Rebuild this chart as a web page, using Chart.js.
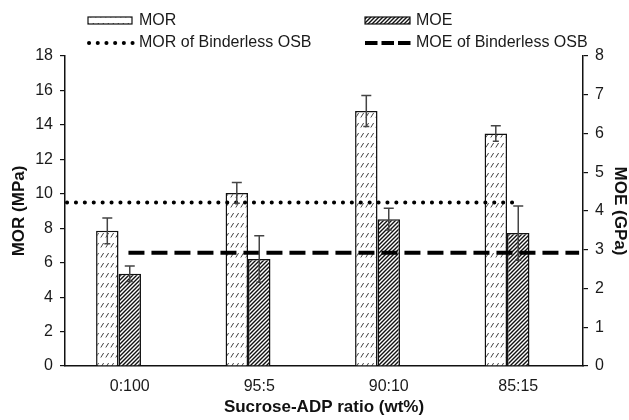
<!DOCTYPE html>
<html>
<head>
<meta charset="utf-8">
<script src="https://cdn.jsdelivr.net/npm/chart.js@4.4.1/dist/chart.umd.min.js"></script>
<style>
html, body { margin: 0; padding: 0; background: #fff; }
#wrap { width: 629px; height: 420px; position: relative; }
</style>
</head>
<body>
<div id="wrap"><canvas id="c"></canvas></div>
<script>
var categories = ['0:100', '95:5', '90:10', '85:15'];
var morValues = [7.85, 10.05, 14.8, 13.5];
var morErrors = [0.75, 0.6, 0.9, 0.45];
var moeValues = [2.38, 2.76, 3.79, 3.43];
var moeErrors = [0.2, 0.6, 0.28, 0.7];
var morBinderless = 9.5;
var moeBinderless = 2.92;
// where the reference lines start/stop, in category widths from the left axis
var morLineSpan = [0, 3.46];
var moeLineSpan = [0.49, 3.97];
var morTicks = [0, 2, 4, 6, 8, 10, 12, 14, 16, 18];
var moeTicks = [0, 1, 2, 3, 4, 5, 6, 7, 8];

var FONT = "'Liberation Sans', Arial, sans-serif";

function makeMorPattern() {
    var c = document.createElement('canvas');
    c.width = 5; c.height = 10;
    var g = c.getContext('2d');
    g.fillStyle = '#fff';
    g.fillRect(0, 0, 5, 10);
    g.strokeStyle = '#444';
    g.lineWidth = 1;
    g.beginPath();
    g.moveTo(0.8, 7.5);
    g.lineTo(3.6, 3);
    g.stroke();
    return g.createPattern(c, 'repeat');
}

function makeMoePattern() {
    var c = document.createElement('canvas');
    c.width = 4; c.height = 4;
    var g = c.getContext('2d');
    g.fillStyle = '#fff';
    g.fillRect(0, 0, 4, 4);
    g.strokeStyle = '#111';
    g.lineWidth = 1.4;
    g.beginPath();
    g.moveTo(0, 4); g.lineTo(4, 0);
    g.moveTo(-1, 1); g.lineTo(1, -1);
    g.moveTo(3, 5); g.lineTo(5, 3);
    g.stroke();
    return g.createPattern(c, 'repeat');
}

var morPattern = makeMorPattern();
var moePattern = makeMoePattern();

function spanPixels(chart, span) {
    var xs = chart.scales.x;
    var step = xs.getPixelForValue(1) - xs.getPixelForValue(0);
    var left = xs.getPixelForValue(0) - step / 2;
    return [left + span[0] * step, left + span[1] * step];
}

var refLinePlugin = {
    id: 'refLines',
    afterDatasetsDraw: function(chart) {
        var ctx = chart.ctx;
        ctx.save();
        ctx.strokeStyle = '#000';
        ctx.lineWidth = 4;

        var p = spanPixels(chart, morLineSpan);
        var y = chart.scales.y.getPixelForValue(morBinderless);
        ctx.lineCap = 'round';
        ctx.setLineDash([0.1, 8.8]);
        ctx.beginPath();
        ctx.moveTo(p[0] + 2, y); ctx.lineTo(p[1], y);
        ctx.stroke();

        p = spanPixels(chart, moeLineSpan);
        y = chart.scales.y2.getPixelForValue(moeBinderless);
        ctx.lineCap = 'butt';
        ctx.setLineDash([16, 7]);
        ctx.beginPath();
        ctx.moveTo(p[0], y); ctx.lineTo(p[1], y);
        ctx.stroke();
        ctx.restore();
    }
};

var errorBarPlugin = {
    id: 'errorBars',
    afterDatasetsDraw: function(chart) {
        var ctx = chart.ctx;
        var sets = [[0, morErrors, 'y'], [1, moeErrors, 'y2']];
        ctx.save();
        ctx.strokeStyle = '#444';
        ctx.lineWidth = 1.5;
        for (var s = 0; s < sets.length; s++) {
            var meta = chart.getDatasetMeta(sets[s][0]);
            var scale = chart.scales[sets[s][2]];
            var vals = chart.data.datasets[sets[s][0]].data;
            for (var i = 0; i < meta.data.length; i++) {
                var x = meta.data[i].x;
                var top = scale.getPixelForValue(vals[i] + sets[s][1][i]);
                var bot = scale.getPixelForValue(vals[i] - sets[s][1][i]);
                ctx.beginPath();
                ctx.moveTo(x, bot);
                ctx.lineTo(x, top);
                ctx.moveTo(x - 5, top);
                ctx.lineTo(x + 5, top);
                ctx.moveTo(x - 3, bot);
                ctx.lineTo(x + 3, bot);
                ctx.stroke();
            }
        }
        ctx.restore();
    }
};

var legendPlugin = {
    id: 'cornerLegend',
    afterDraw: function(chart) {
        var ctx = chart.ctx;
        ctx.save();
        ctx.font = '16px ' + FONT;
        ctx.textBaseline = 'middle';
        // bar swatches
        ctx.fillStyle = morPattern;
        ctx.fillRect(88, 17, 44, 7);
        ctx.strokeStyle = '#111';
        ctx.lineWidth = 1.2;
        ctx.strokeRect(88, 17, 44, 7);
        ctx.fillStyle = moePattern;
        ctx.fillRect(365, 17, 45, 7);
        ctx.strokeRect(365, 17, 45, 7);
        // line swatches
        ctx.lineWidth = 4;
        ctx.strokeStyle = '#000';
        ctx.lineCap = 'round';
        ctx.setLineDash([0.1, 8.6]);
        ctx.beginPath();
        ctx.moveTo(89, 43); ctx.lineTo(133, 43);
        ctx.stroke();
        ctx.lineCap = 'butt';
        ctx.setLineDash([12.5, 4]);
        ctx.beginPath();
        ctx.moveTo(365, 43); ctx.lineTo(411, 43);
        ctx.stroke();
        ctx.setLineDash([]);
        ctx.fillStyle = '#1a1a1a';
        ctx.fillText('MOR', 139, 21);
        ctx.fillText('MOE', 416, 21);
        ctx.fillText('MOR of Binderless OSB', 139, 43);
        ctx.fillText('MOE of Binderless OSB', 416, 43);
        ctx.restore();
    }
};

new Chart(document.getElementById('c'), {
    type: 'bar',
    data: {
        labels: categories,
        datasets: [
            { label: 'MOR', data: morValues, yAxisID: 'y', backgroundColor: morPattern, borderColor: '#111', borderWidth: 1.5 },
            { label: 'MOE', data: moeValues, yAxisID: 'y2', backgroundColor: moePattern, borderColor: '#111', borderWidth: 1.5 },
            // empty third slot, keeps the pair left of the category centre
            { label: '', data: [null, null, null, null], yAxisID: 'y' }
        ]
    },
    options: {
        responsive: true,
        maintainAspectRatio: false,
        animation: false,
        categoryPercentage: 0.52,
        barPercentage: 1.0,
        layout: { padding: { top: 56, left: 0, right: 0, bottom: 0 } },
        plugins: {
            legend: { display: false },
            tooltip: { enabled: false }
        },
        scales: {
            x: {
                offset: true,
                grid: { display: false, drawTicks: false },
                border: { color: '#111', width: 1.5 },
                ticks: { color: '#1a1a1a', font: { family: FONT, size: 16 }, padding: 11 },
                title: { display: true, text: 'Sucrose-ADP ratio (wt%)', color: '#111', font: { family: FONT, size: 17, weight: 'bold', lineHeight: 1 }, padding: { top: 0, bottom: 4 } },
                afterFit: function(s) { s.height = 54; }
            },
            y: {
                position: 'left', min: 0, max: 18,
                afterBuildTicks: function(s) { s.ticks = morTicks.map(function(v) { return { value: v }; }); },
                grid: { drawOnChartArea: false, tickLength: 5, color: '#111', lineWidth: 1.2 },
                border: { color: '#111', width: 1.5 },
                ticks: { color: '#1a1a1a', font: { family: FONT, size: 16 }, padding: 7 },
                title: { display: true, text: 'MOR (MPa)', color: '#111', font: { family: FONT, size: 17, weight: 'bold', lineHeight: 1 }, padding: { top: 11, bottom: 0 } },
                afterFit: function(s) { s.width = 65; }
            },
            y2: {
                position: 'right', min: 0, max: 8,
                afterBuildTicks: function(s) { s.ticks = moeTicks.map(function(v) { return { value: v }; }); },
                grid: { drawOnChartArea: false, tickLength: 5, color: '#111', lineWidth: 1.2 },
                border: { color: '#111', width: 1.5 },
                ticks: { color: '#1a1a1a', font: { family: FONT, size: 16 }, padding: 7 },
                title: { display: true, text: 'MOE (GPa)', color: '#111', font: { family: FONT, size: 17, weight: 'bold', lineHeight: 1 }, padding: { top: 1, bottom: 0 } },
                afterFit: function(s) { s.width = 46; }
            }
        }
    },
    plugins: [refLinePlugin, errorBarPlugin, legendPlugin]
});
</script>
</body>
</html>
